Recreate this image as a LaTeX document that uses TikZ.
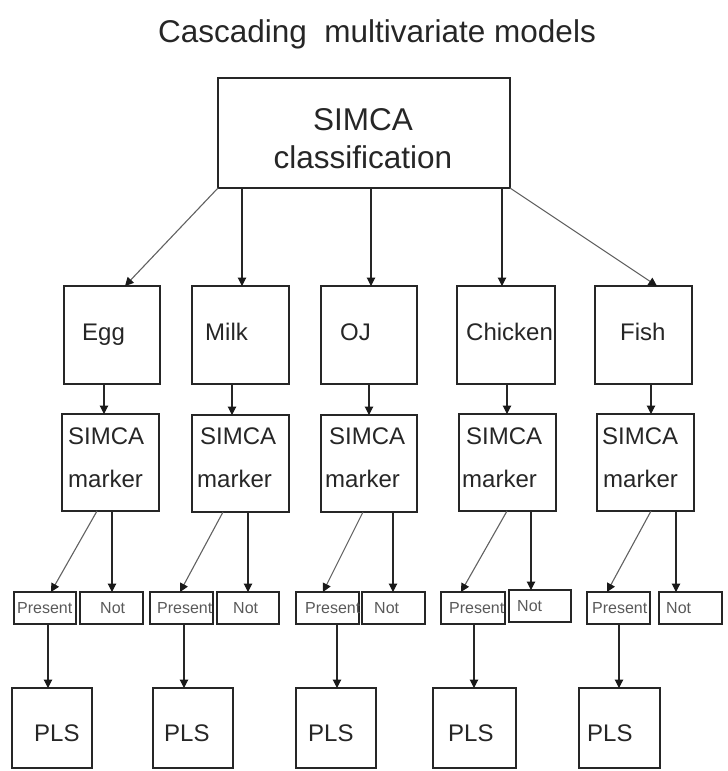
\documentclass[tikz,border=0pt]{standalone}
\usepackage{fontspec}
\setmainfont{Liberation Sans}
\usetikzlibrary{arrows.meta}
\newcommand\bxc[5]{\node[box, minimum width={#4-#2}, minimum height={#5-#3}] (#1) at ({(#2+#4)/2},{(#3+#5)/2}) {};}
\begin{document}
\begin{tikzpicture}[x=1pt,y=-1pt,
  box/.style={draw=black!85, line width=1.3pt, inner sep=0pt, outer sep=0pt, rectangle},
  arr/.style={draw=black!85, line width=1.1pt, -{Triangle[length=8.5pt,width=8.5pt,color=black!90]}},
  diag/.style={arr, draw=black!62, line width=1.1pt},
  txt/.style={inner sep=0pt, text=black!85, anchor=base west},
  big/.style={txt, font=\fontsize{31.5}{38}\selectfont},
  mid/.style={txt, font=\fontsize{24}{29}\selectfont},
  small/.style={txt, text=black!65, font=\fontsize{16}{19}\selectfont}]
\useasboundingbox (0,0) rectangle (728,771);
% title
\node[big, anchor=base] (title) at (377,42) {Cascading\ \ multivariate models};
% boxes
\bxc{top}{218}{78}{510}{188}
\bxc{egg}{64}{286}{160}{384}
\bxc{milk}{192}{286}{289}{384}
\bxc{oj}{321}{286}{417}{384}
\bxc{chicken}{457}{286}{555}{384}
\bxc{fish}{595}{286}{692}{384}
\bxc{eggm}{62}{414}{159}{511}
\bxc{milkm}{192}{415}{289}{512}
\bxc{ojm}{321}{415}{417}{512}
\bxc{chickenm}{459}{414}{556}{511}
\bxc{fishm}{597}{414}{694}{511}
\bxc{eggp}{14}{592}{76}{624}
\bxc{eggn}{80}{592}{143}{624}
\bxc{milkp}{150}{592}{213}{624}
\bxc{milkn}{217}{592}{279}{624}
\bxc{ojp}{296}{592}{359}{624}
\bxc{ojn}{362}{592}{425}{624}
\bxc{chickenp}{441}{592}{505}{624}
\bxc{chickenn}{509}{590}{571}{622}
\bxc{fishp}{587}{592}{650}{624}
\bxc{fishn}{659}{592}{722}{624}
\bxc{eggl}{12}{688}{92}{768}
\bxc{milkl}{153}{688}{233}{768}
\bxc{ojl}{296}{688}{376}{768}
\bxc{chickenl}{433}{688}{516}{768}
\bxc{fishl}{579}{688}{660}{768}
% texts
\node[big, anchor=base] (top-a) at (363,130) {SIMCA};
\node[big, anchor=base] (top-b) at (363,168) {classification};
\node[mid] (egg-t) at (82,340) {Egg};
\node[mid] (milk-t) at (205,340) {Milk};
\node[mid] (oj-t) at (340,340) {OJ};
\node[mid] (chicken-t) at (466,340) {Chicken};
\node[mid] (fish-t) at (620,340) {Fish};
\node[mid] (eggm-a) at (68,444) {SIMCA};
\node[mid] (eggm-b) at (68,487) {marker};
\node[mid] (milkm-a) at (200,444) {SIMCA};
\node[mid] (milkm-b) at (197,487) {marker};
\node[mid] (ojm-a) at (329,444) {SIMCA};
\node[mid] (ojm-b) at (325,487) {marker};
\node[mid] (chickenm-a) at (466,444) {SIMCA};
\node[mid] (chickenm-b) at (462,487) {marker};
\node[mid] (fishm-a) at (602,444) {SIMCA};
\node[mid] (fishm-b) at (603,487) {marker};
\node[small] (eggp-t) at (17,613) {Present};
\node[small] (milkp-t) at (157,613) {Present};
\node[small] (ojp-t) at (305,613) {Present};
\node[small] (chickenp-t) at (449,613) {Present};
\node[small] (fishp-t) at (592,613) {Present};
\node[small] (eggn-t) at (100,613) {Not};
\node[small] (milkn-t) at (233,613) {Not};
\node[small] (ojn-t) at (374,613) {Not};
\node[small] (chickenn-t) at (517,611) {Not};
\node[small] (fishn-t) at (666,613) {Not};
\node[mid] (eggl-t) at (34,741) {PLS};
\node[mid] (milkl-t) at (164,741) {PLS};
\node[mid] (ojl-t) at (308,741) {PLS};
\node[mid] (chickenl-t) at (448,741) {PLS};
\node[mid] (fishl-t) at (587,741) {PLS};
% connectors: top to row 1
\draw[diag] (top.south west) -- (egg.north -| 125,0);
\draw[arr] (top.south -| 242,0) -- (milk.north -| 242,0);
\draw[arr] (top.south -| 371,0) -- (oj.north -| 371,0);
\draw[arr] (top.south -| 502,0) -- (chicken.north -| 502,0);
\draw[diag] (top.south east) -- (fish.north -| 657,0);
% row 1 to row 2
\draw[arr] (egg.south -| 104,0) -- (eggm.north -| 104,0);
\draw[arr] (milk.south -| 232,0) -- (milkm.north -| 232,0);
\draw[arr] (oj.south -| 369,0) -- (ojm.north -| 369,0);
\draw[arr] (chicken.south -| 507,0) -- (chickenm.north -| 507,0);
\draw[arr] (fish.south -| 651,0) -- (fishm.north -| 651,0);
% row 2 to row 3
\draw[diag] (eggm.south -| 97,0) -- (eggp.north -| 51,0);
\draw[arr] (eggm.south -| 112,0) -- (eggn.north -| 112,0);
\draw[diag] (milkm.south -| 223,0) -- (milkp.north -| 180,0);
\draw[arr] (milkm.south -| 248,0) -- (milkn.north -| 248,0);
\draw[diag] (ojm.south -| 363,0) -- (ojp.north -| 323,0);
\draw[arr] (ojm.south -| 393,0) -- (ojn.north -| 393,0);
\draw[diag] (chickenm.south -| 507,0) -- (chickenp.north -| 461,0);
\draw[arr] (chickenm.south -| 531,0) -- (chickenn.north -| 531,0);
\draw[diag] (fishm.south -| 651,0) -- (fishp.north -| 607,0);
\draw[arr] (fishm.south -| 676,0) -- (fishn.north -| 676,0);
% row 3 to row 4
\draw[arr] (eggp.south -| 48,0) -- (eggl.north -| 48,0);
\draw[arr] (milkp.south -| 184,0) -- (milkl.north -| 184,0);
\draw[arr] (ojp.south -| 337,0) -- (ojl.north -| 337,0);
\draw[arr] (chickenp.south -| 474,0) -- (chickenl.north -| 474,0);
\draw[arr] (fishp.south -| 619,0) -- (fishl.north -| 619,0);
\end{tikzpicture}
\end{document}
